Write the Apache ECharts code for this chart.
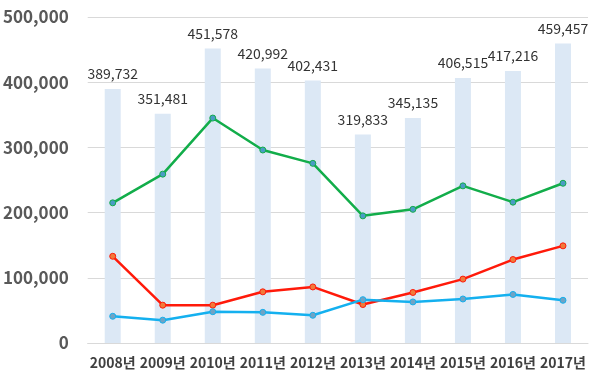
<!DOCTYPE html>
<html><head><meta charset="utf-8">
<script src="https://cdn.jsdelivr.net/npm/echarts@6/dist/echarts.min.js"></script>
<style>html,body{margin:0;padding:0;background:#fff}#c{width:600px;height:384px}</style>
</head><body><div id="c"></div>
<script>
const categories = ['2008년','2009년','2010년','2011년','2012년','2013년','2014년','2015년','2016년','2017년'];
const totalValues = [389732,351481,451578,420992,402431,319833,345135,406515,417216,459457];
const greenValues = [215000,259000,345000,296000,275500,195000,205000,241000,216000,245000];
const redValues = [133000,58000,58000,78500,86000,59000,77500,98000,128000,149000];
const blueValues = [41000,35000,48000,47000,42500,66500,63000,67500,74500,65500];
const yTicks = [0,100000,200000,300000,400000,500000];

const font = '"Noto Sans CJK KR", "Noto Sans", sans-serif';
function fmt(v){return v.toLocaleString('en-US');}
function lineSeries(data, color, markFill){
  return {type:'line', data:data, z:5, symbol:'circle', symbolSize:6,
    lineStyle:{color:color,width:2.5}, itemStyle:{color:markFill,borderColor:color,borderWidth:1},
    emphasis:{disabled:true}};
}
const chart = echarts.init(document.getElementById('c'), null, {renderer:'canvas'});
chart.setOption({
  animation:false,
  grid:{left:87,right:12,top:17,bottom:41},
  xAxis:{type:'category',data:categories,
    axisLine:{show:true,lineStyle:{color:'#d9d9d9'}},axisTick:{show:false},
    axisLabel:{color:'#404040',fontFamily:font,fontSize:14,fontWeight:'bold',margin:13,interval:0}},
  yAxis:{type:'value',min:yTicks[0],max:yTicks[yTicks.length-1],interval:100000,
    axisLine:{show:false},axisTick:{show:false},
    splitLine:{lineStyle:{color:'#d9d9d9',width:1}},
    axisLabel:{color:'#595959',fontFamily:font,fontSize:17,fontWeight:'bold',margin:19,formatter:v=>fmt(v)}},
  series:[
    {type:'bar',data:totalValues,barWidth:16,itemStyle:{color:'#dce8f5'},z:1,
      label:{show:true,position:'top',distance:8,color:'#333333',fontFamily:font,fontSize:14,formatter:p=>fmt(p.value)}},
    lineSeries(greenValues,'#12ad4a','#4a9cc4'),
    lineSeries(redValues,'#ff1a0a','#f07a3a'),
    lineSeries(blueValues,'#14b0ef','#6fa3c4')
  ]
});
</script></body></html>
